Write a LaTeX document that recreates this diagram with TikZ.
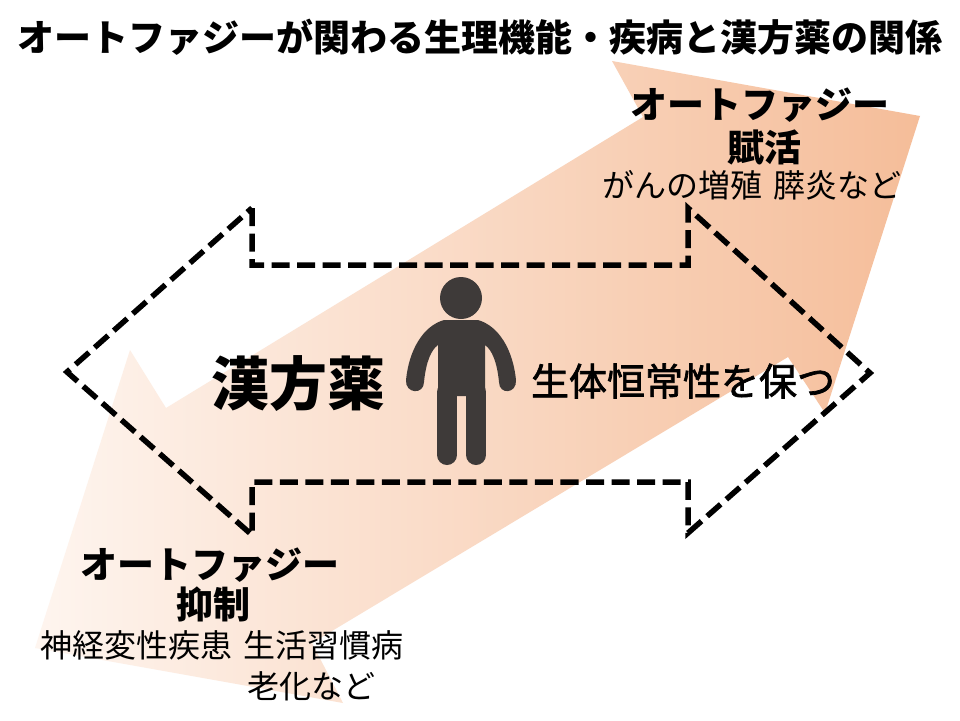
\documentclass[tikz,border=0pt]{standalone}
\usepackage{fontspec}
\setmainfont{Noto Sans CJK JP}
\newfontfamily\jpmed{Noto Sans CJK JP}[FakeBold=1.8]
\definecolor{bandL}{HTML}{FEF5EF}
\definecolor{bandM}{HTML}{F9D8C6}
\definecolor{bandR}{HTML}{F5BD99}
\definecolor{person}{HTML}{3E3A39}
\begin{document}
\begin{tikzpicture}[x=1pt,y=-1pt,
  dashline/.style={line width=5.5pt, dash pattern=on 18pt off 7.5pt, black},
  lbl/.style={inner sep=0pt, outer sep=0pt, text=black},
  boldlbl/.style={lbl, font=\bfseries\fontsize{#1}{#1}\selectfont},
  reglbl/.style={lbl, font=\fontsize{#1}{#1}\selectfont}]
\useasboundingbox (0,0) rectangle (960,720);
\fill[white] (0,0) rectangle (960,720);
% gradient double arrow band
\shade[left color=bandL, middle color=bandM, right color=bandR]
  (35,648) -- (130,350) -- (166,408) -- (643,117) -- (612,61) -- (920,116)
  -- (825,413) -- (788,357) -- (312,643) -- (343,703) -- cycle;
% dashed double-headed arrow outline
\draw[dashline] (252,208) -- (252,265) -- (688,265) -- (688,208) -- (870,373)
  -- (688,533) -- (688,482) -- (252,482) -- (252,535) -- (67,372) -- cycle;
% person
\fill[person] (461,298) circle (21);
\fill[person] (444,320) -- (478,320)
  .. controls (499,326) and (513,350) .. (516,380)
  .. controls (517,394) and (499,395) .. (499,382)
  .. controls (497,362) and (492,350) .. (485,345)
  -- (485,396) -- (438,396) -- (438,345)
  .. controls (431,350) and (426,362) .. (424,382)
  .. controls (424,395) and (405,394) .. (406,380)
  .. controls (409,350) and (423,326) .. (444,320) -- cycle;
\draw[person, line width=20pt, line cap=round] (447,392) -- (447,455);
\draw[person, line width=20pt, line cap=round] (476,392) -- (476,455);
% texts
\node[boldlbl=37] (title) at (480,37) {オートファジーが関わる生理機能・疾病と漢方薬の関係};
\node[boldlbl=37] (upA) at (760,105) {オートファジー};
\node[boldlbl=37] (upB) at (764,147) {賦活};
\node[reglbl=32] (upC) at (752,185) {がんの増殖\hspace{0.35em}膵炎など};
\node[boldlbl=37] (dnA) at (210,565) {オートファジー};
\node[boldlbl=37] (dnB) at (213,604) {抑制};
\node[reglbl=32] (dnC) at (222,645) {神経変性疾患\hspace{0.35em}生活習慣病};
\node[reglbl=32, anchor=west] (dnD) at (247,686) {老化など};
\node[boldlbl=58] (kanpo) at (298,384) {漢方薬};
\node[lbl, font=\jpmed\fontsize{38}{38}\selectfont] (homeo) at (683,381) {生体恒常性を保つ};
\end{tikzpicture}
\end{document}
